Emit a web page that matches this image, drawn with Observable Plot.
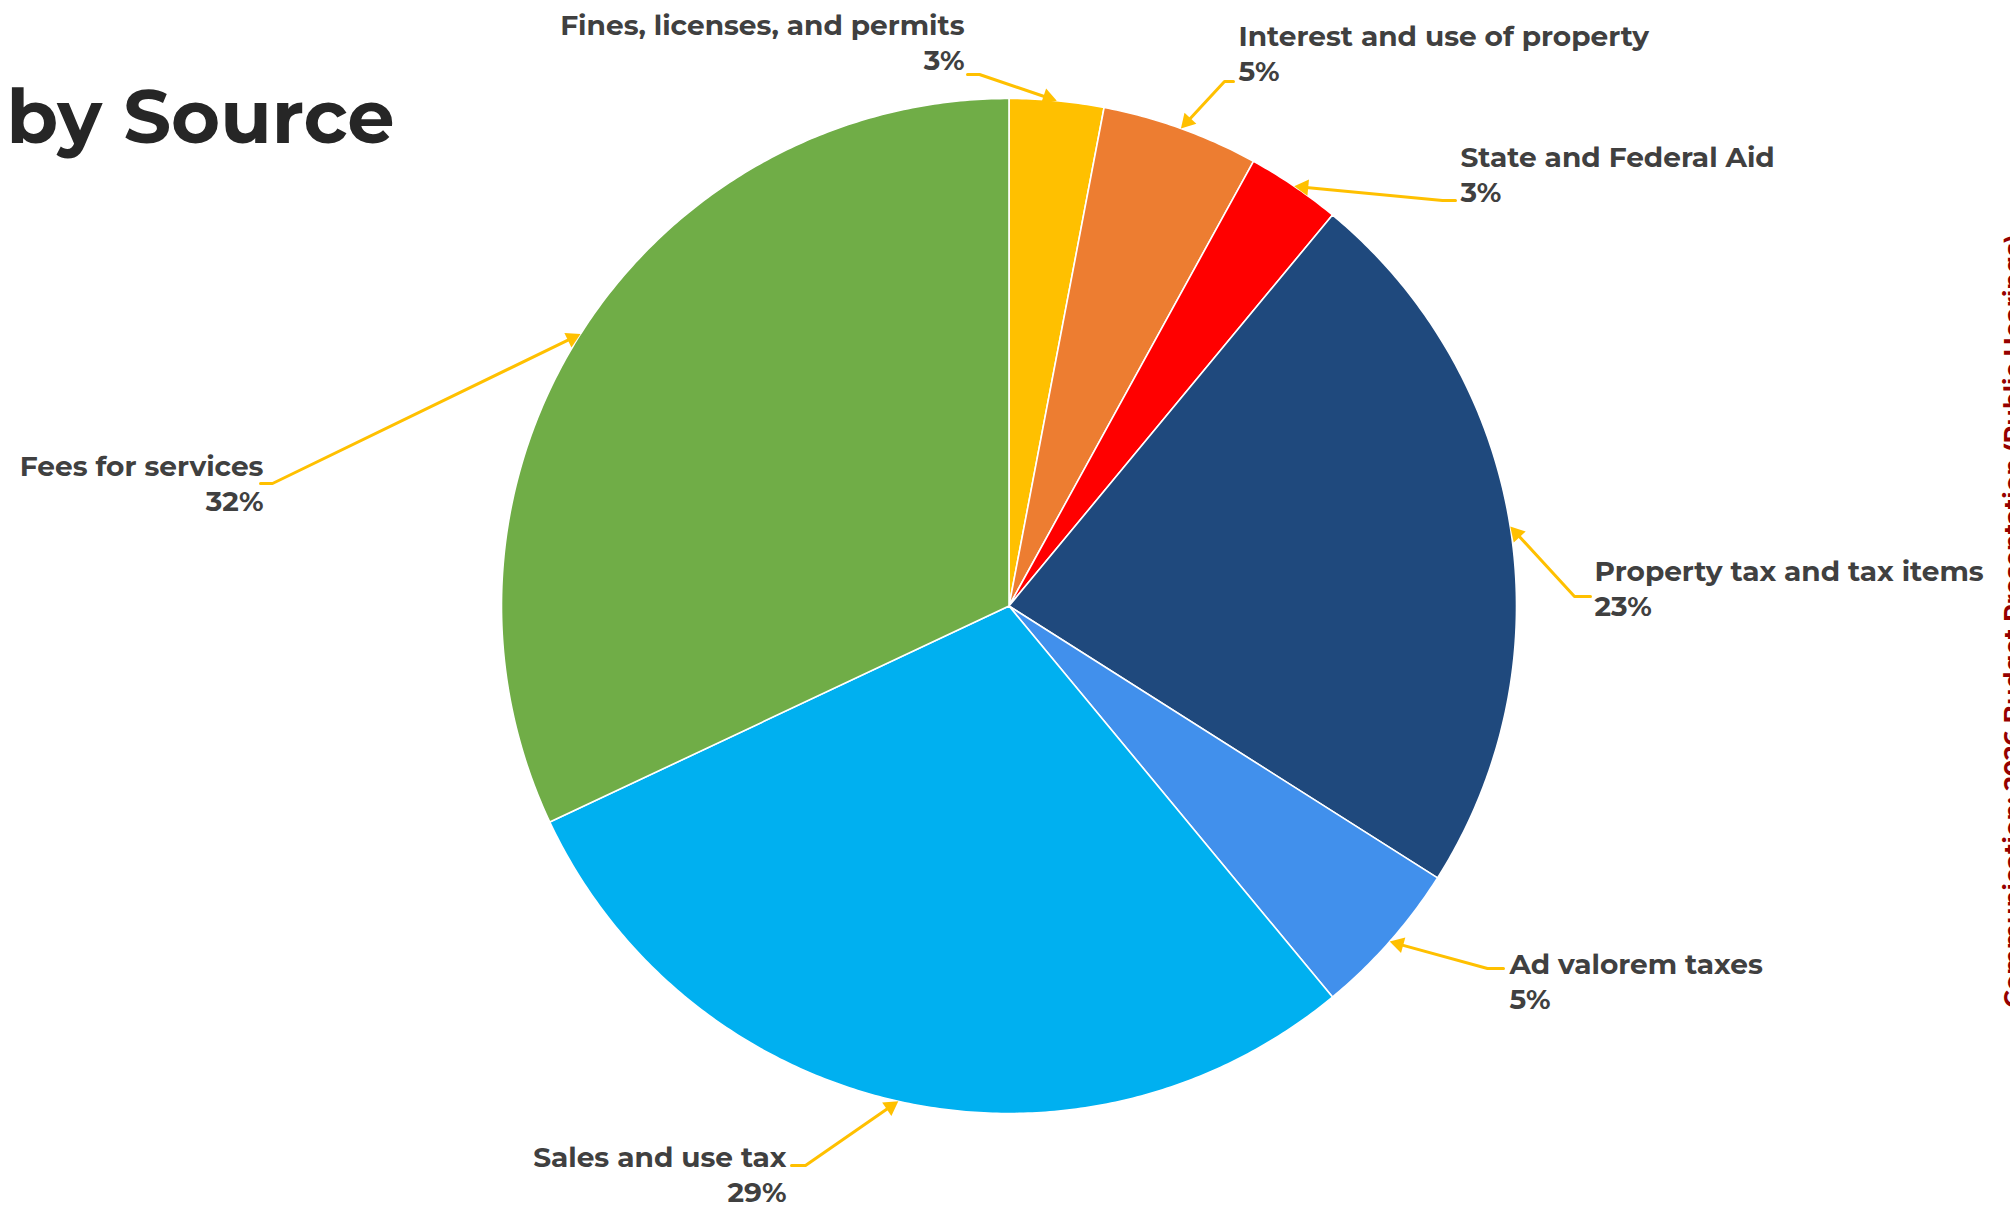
<!DOCTYPE html>
<html><head><meta charset="utf-8">
<script src="https://cdn.jsdelivr.net/npm/d3@7"></script>
<script src="https://cdn.jsdelivr.net/npm/@observablehq/plot@0.6"></script>
<style>html,body{margin:0;padding:0;background:#fff;overflow:hidden;}</style>
</head><body><div id="chart"></div>
<script>
// ---- data ----
const categories = ["Fines, licenses, and permits", "Interest and use of property", "State and Federal Aid",
  "Property tax and tax items", "Ad valorem taxes", "Sales and use tax", "Fees for services"];
const values = [3, 5, 3, 23, 5, 29, 32];
const percentLabels = ["3%", "5%", "3%", "23%", "5%", "29%", "32%"];
const title = "by Source";
const caption = "Communication: 2026 Budget Presentation (Public Hearings)";

// ---- style ----
const colors = ["#FFC000", "#ED7D31", "#FF0000", "#1F497D", "#4190EC", "#00B0F0", "#70AD47"];
const FONT = "Montserrat, Inter, 'Open Sans', sans-serif";

// ---- layout (pixels) ----
const W = 2010, H = 1211, CX = 1008.5, CY = 605.5, R = 507.5;
// label text anchor and leader (start x, elbow x, leader y), as pixel offsets from the pie centre
const labelLayout = [
  {anchor: "end",   tx: -44.5, ty: -565,   sx: -41.5, ex: -29.5, ly: -531.5},
  {anchor: "start", tx: 229.5, ty: -554,   sx: 224.5, ex: 215.5, ly: -524.5},
  {anchor: "start", tx: 451.5, ty: -432.5, sx: 446.5, ex: 433.5, ly: -405.5},
  {anchor: "start", tx: 585.5, ty: -19,    sx: 581.5, ex: 565.5, ly: -9.5},
  {anchor: "start", tx: 500.5, ty: 374.5,  sx: 494.5, ex: 478.5, ly: 362.5},
  {anchor: "end",   tx: -222.5, ty: 567,   sx: -217.5, ex: -203.5, ly: 559.5},
  {anchor: "end",   tx: -745.5, ty: -123.5, sx: -748.5, ex: -736.5, ly: -122.5}
];

// ---- geometry in pie-radius units (x right, y down) ----
const total = d3.sum(values);
let cum = 0;
const slices = values.map((v, i) => {
  const a0 = 2 * Math.PI * cum / total;
  cum += v;
  const a1 = 2 * Math.PI * cum / total;
  const n = Math.max(8, Math.ceil((a1 - a0) / (Math.PI / 360)));
  const pts = [{x: 0, y: 0}];
  for (let k = 0; k <= n; k++) {
    const a = a0 + (a1 - a0) * k / n;
    pts.push({x: Math.sin(a), y: -Math.cos(a)});
  }
  pts.push({x: 0, y: 0});
  return {category: categories[i], color: colors[i], pts, mid: (a0 + a1) / 2};
});

const arrowR = 6;
const headOffset = 2 * Math.sqrt(Math.PI * arrowR * arrowR / (3 * Math.sqrt(3))); // centre-to-tip of triangle, px

const leaders = slices.map((s, i) => {
  const L = labelLayout[i];
  const tip = {x: Math.sin(s.mid), y: -Math.cos(s.mid)};
  const elbow = {x: L.ex / R, y: L.ly / R};
  const dxp = (tip.x - elbow.x) * R, dyp = (tip.y - elbow.y) * R;
  const len = Math.hypot(dxp, dyp);
  const head = {x: tip.x - dxp / len * headOffset / R, y: tip.y - dyp / len * headOffset / R,
    rotate: Math.atan2(dxp, -dyp) * 180 / Math.PI};
  return {pts: [{x: L.sx / R, y: L.ly / R}, elbow, head], head};
});

const labels = slices.map((s, i) => ({
  text: categories[i] + "\n" + percentLabels[i],
  x: labelLayout[i].tx / R, y: labelLayout[i].ty / R, anchor: labelLayout[i].anchor
}));

const textStyle = {fontSize: 28, fontWeight: 700, fill: "#404040", lineAnchor: "middle", lineHeight: 1.25, fontFamily: FONT};

const plot = Plot.plot({
  width: W, height: H,
  margin: 0,
  x: {domain: [-CX / R, (W - CX) / R], range: [0, W], axis: null},
  y: {domain: [-CY / R, (H - CY) / R], range: [0, H], axis: null},
  style: {background: "#fff", fontFamily: FONT},
  marks: [
    ...slices.map(s => Plot.line(s.pts, {x: "x", y: "y", fill: s.color, stroke: "#fff", strokeWidth: 1.6, strokeLinejoin: "round"})),
    ...leaders.map(l => Plot.line(l.pts, {x: "x", y: "y", stroke: "#FFC000", strokeWidth: 3})),
    Plot.dot(leaders.map(l => l.head), {x: "x", y: "y", rotate: "rotate", symbol: "triangle", r: arrowR, fill: "#FFC000", stroke: "none"}),
    Plot.text(labels.filter(d => d.anchor === "start"), {x: "x", y: "y", text: "text", textAnchor: "start", ...textStyle}),
    Plot.text(labels.filter(d => d.anchor === "end"), {x: "x", y: "y", text: "text", textAnchor: "end", ...textStyle}),
    Plot.text([title], {text: d => d, frameAnchor: "top-left", dx: 6, dy: 89, textAnchor: "start", lineAnchor: "top",
      fontSize: 75, fontWeight: 700, fill: "#262626", fontFamily: FONT}),
    Plot.text([caption], {text: d => d, frameAnchor: "right", dx: 3, dy: 15, rotate: -90, textAnchor: "middle", lineAnchor: "middle",
      fontSize: 24.2, fontWeight: 700, fill: "#960000", fontFamily: FONT})
  ]
});
document.getElementById("chart").appendChild(plot);
</script>
</body></html>
